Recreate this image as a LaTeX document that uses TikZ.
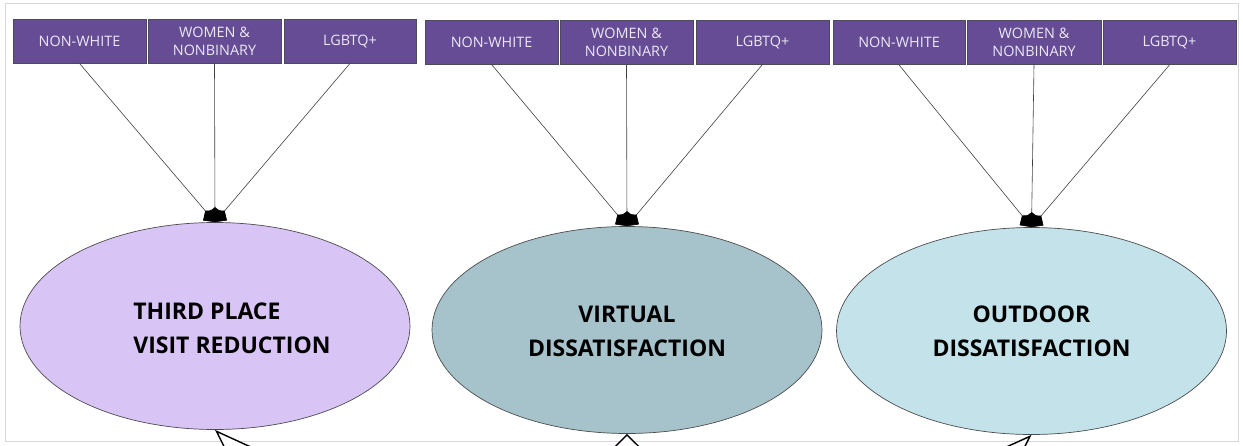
\documentclass[tikz,border=0pt]{standalone}
\usepackage{fontspec}
\setmainfont{Open Sans}
\usetikzlibrary{arrows.meta,shapes.geometric}
\definecolor{boxpurple}{HTML}{664C94}
\definecolor{boxedge}{HTML}{4A4A5A}
\definecolor{boxtext}{HTML}{ECE8F4}
\definecolor{lavender}{HTML}{D9C4F6}
\definecolor{steelblue}{HTML}{A6C3CC}
\definecolor{paleblue}{HTML}{C3E2EA}
\definecolor{framegray}{HTML}{D8D8D8}
\tikzset{
  group/.style={draw=boxedge, line width=0.8pt, fill=boxpurple, text=boxtext,
    minimum height=44pt, inner sep=0pt, align=center,
    font=\fontsize{14.4}{18}\selectfont},
  latent/.style={ellipse, draw=black!70, line width=0.7pt, minimum width=390pt,
    minimum height=207pt, inner sep=0pt},
  caption/.style={inner sep=0pt, font=\fontsize{23}{34}\selectfont\bfseries},
  effect/.style={draw=black!75, line width=0.6pt,
    -{Kite[length=15pt,width=16pt,inset=6pt,fill=black,color=black]}},
  incoming/.style={draw=black, line width=1.4pt, -{Triangle[open,length=40pt,width=28pt,fill=white]}},
  incomingup/.style={draw=black, line width=1.4pt, -{Triangle[open,length=16pt,width=32pt,fill=white]}}
}
\begin{document}
\begin{tikzpicture}[x=1pt,y=-1pt]
\useasboundingbox (0,0) rectangle (1243,445);
\draw[framegray, line width=1pt] (5,3) rectangle (1238,441);

% group labels, three per construct
\node[group, minimum width=133pt] (nw1) at (79.5,41) {NON-WHITE};
\node[group, minimum width=133pt] (wn1) at (214.5,41) {WOMEN \&\\NONBINARY};
\node[group, minimum width=132pt] (lg1) at (350,41) {LGBTQ+};
\node[group, minimum width=133pt] (nw2) at (491.5,42) {NON-WHITE};
\node[group, minimum width=133pt] (wn2) at (626.5,42) {WOMEN \&\\NONBINARY};
\node[group, minimum width=133pt] (lg2) at (762.5,42) {LGBTQ+};
\node[group, minimum width=132pt] (nw3) at (899,42.5) {NON-WHITE};
\node[group, minimum width=134pt] (wn3) at (1034,42.5) {WOMEN \&\\NONBINARY};
\node[group, minimum width=133pt] (lg3) at (1169.5,42.5) {LGBTQ+};

% outcome constructs
\node[latent, fill=lavender] (tp) at (215,326) {};
\node[latent, fill=steelblue] (vd) at (627,330) {};
\node[latent, fill=paleblue] (od) at (1031.5,331) {};
\node[caption, align=left] (tpt) at (232,328) {THIRD PLACE\\VISIT REDUCTION};
\node[caption, align=center] (vdt) at (627,331) {VIRTUAL\\DISSATISFACTION};
\node[caption, align=center] (odt) at (1031.5,331) {OUTDOOR\\DISSATISFACTION};

% group effects on each construct
\foreach \g in {nw1,wn1,lg1}{\draw[effect] (\g.south) -- (tp.north);}
\foreach \g in {nw2,wn2,lg2}{\draw[effect] (\g.south) -- (vd.north);}
\foreach \g in {nw3,wn3,lg3}{\draw[effect] (\g.south) -- (od.north);}

% paths entering from below
\begin{scope}
\clip (0,0) rectangle (1243,445);
\coordinate (s1) at (275,488);
\coordinate (s2) at (627,500);
\coordinate (s3) at (971,493);
\draw[incoming] (s1) -- (tp.south);
\draw[incomingup] (s2) -- (vd.south);
\draw[incoming] (s3) -- (od.south);
\end{scope}
\end{tikzpicture}
\end{document}
